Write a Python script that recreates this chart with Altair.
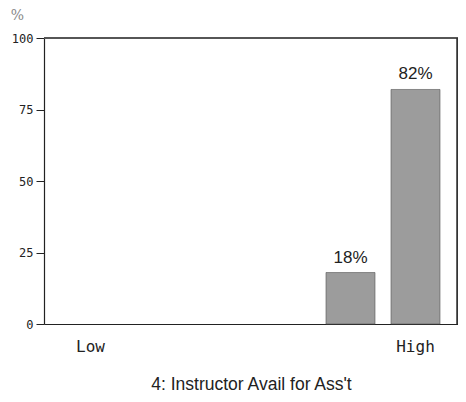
import altair as alt
import pandas as pd

categories = [1, 2, 3, 4, 5, 6]
percents = [0, 0, 0, 0, 18, 82]
y_ticks = [0, 25, 50, 75, 100]
x_title = "4: Instructor Avail for Ass't"

W, H = 414, 286

df = pd.DataFrame({"cat": categories, "pct": percents})

x_enc = alt.X(
    "cat:O",
    sort=categories,
    scale=alt.Scale(domain=categories, paddingInner=0.246, paddingOuter=0.3077, align=0.55),
    axis=alt.Axis(
        title=x_title,
        labelAngle=0,
        labelExpr="datum.value == 1 ? 'Low' : (datum.value == 6 ? 'High' : '')",
        labelFont="DejaVu Sans Mono",
        labelFontSize=16,
        labelColor="#222",
        labelPadding=14,
        ticks=False,
        domainColor="#222",
        domainWidth=1.2,
        titleFont="Liberation Sans",
        titleFontSize=17.5,
        titleFontWeight="normal",
        titleColor="#222",
        titleY=60,
        titleBaseline="middle",
    ),
)

y_enc = alt.Y(
    "pct:Q",
    scale=alt.Scale(domain=[0, 100]),
    axis=alt.Axis(
        values=y_ticks,
        title="%",
        titleAngle=0,
        titleX=-27,
        titleY=-30,
        titleAlign="center",
        titleBaseline="top",
        titleFont="DejaVu Serif",
        titleFontSize=14,
        titleFontWeight="normal",
        titleColor="#888",
        labelFont="DejaVu Sans Mono",
        labelFontSize=12,
        labelColor="#222",
        labelPadding=3,
        tickSize=8,
        tickColor="#222",
        domainColor="#222",
        domainWidth=1.2,
        grid=False,
    ),
)

bars = (
    alt.Chart(df)
    .transform_filter("datum.pct > 0")
    .mark_bar(color="#9c9c9c", stroke="#555", strokeWidth=0.6)
    .encode(x=x_enc, y=y_enc)
)

labels = (
    alt.Chart(df)
    .transform_filter("datum.pct > 0")
    .transform_calculate(label="datum.pct + '%'")
    .mark_text(
        baseline="alphabetic",
        dy=-10,
        font="Liberation Sans",
        fontSize=17,
        color="#222",
    )
    .encode(x=x_enc, y=y_enc, text="label:N")
)

top_rule = alt.Chart(df).mark_rule(color="#555", strokeWidth=1).encode(
    x=alt.value(0), x2=alt.value(W), y=alt.value(0)
)
right_rule = alt.Chart(df).mark_rule(color="#333", strokeWidth=1.2).encode(
    x=alt.value(W - 0.6), y=alt.value(0), y2=alt.value(H)
)

chart = (
    alt.layer(bars, labels, top_rule, right_rule)
    .properties(
        width=W,
        height=H,
        autosize=alt.AutoSizeParams(type="none"),
        padding={"left": 36, "top": 30, "right": 0, "bottom": 70},
    )
    .configure_view(strokeWidth=0)
    .configure(background="white")
)

chart.save("out.html", embed_options={"renderer": "svg", "actions": False})
